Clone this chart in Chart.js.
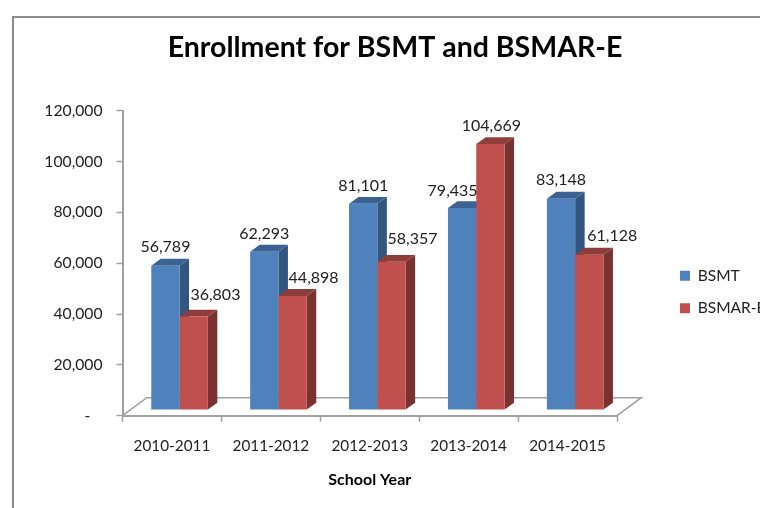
<!DOCTYPE html>
<html>
<head>
<meta charset="utf-8">
<style>
html,body{margin:0;padding:0;background:#fff;overflow:hidden}
#wrap{position:relative;width:760px;height:508px}
#frame{position:absolute;left:12px;top:16px;right:0;bottom:0;border-left:2px solid #8c8c8c;border-top:2px solid #8c8c8c}
canvas{position:absolute;left:0;top:0}
</style>
<script src="https://cdn.jsdelivr.net/npm/chart.js@4"></script>
</head>
<body>
<div id="wrap"><div id="frame"></div><canvas id="c" width="760" height="508"></canvas></div>
<script>
const categories = ['2010-2011','2011-2012','2012-2013','2013-2014','2014-2015'];
const bsmt = [56789,62293,81101,79435,83148];
const bsmarE = [36803,44898,58357,104669,61128];

const FONT = 'Lato';
const AXIS = '#a0a0a0';
const INK = '#222222';
const shift = {x:7.6, y:-5.7};
const barDepth = {x:9.5, y:-6.8};
const floorDepth = {x:24.3, y:-18};
const faces = [
  {top:'#3b6292', side:'#325680'},
  {top:'#8f3d3a', side:'#7a3230'}
];
const labelNudge = [
  {x:[0,0,0,-9.5,0], y:[-18.5,-18,-18,-17.5,-18.5]},
  {x:[21.7,21,21,1,23], y:[-22,-18,-23,-18,-18.3]}
];

const depth3d = {
  id:'depth3d',
  beforeDatasetsDraw(chart){
    const {ctx,scales:{x,y}} = chart;
    const b = y.getPixelForValue(0), l = x.left, r = x.right, fd = floorDepth, d = barDepth;
    ctx.save();
    ctx.strokeStyle = AXIS; ctx.lineWidth = 1.5;
    ctx.beginPath();
    ctx.moveTo(l,b); ctx.lineTo(l+fd.x,b+fd.y); ctx.lineTo(r+fd.x,b+fd.y); ctx.lineTo(r,b);
    ctx.stroke();
    ctx.restore();
    ctx.save();
    ctx.translate(shift.x,shift.y);
    chart.data.datasets.forEach((ds,i)=>{
      const f = faces[i];
      chart.getDatasetMeta(i).data.forEach(bar=>{
        const xl = bar.x-bar.width/2, xr = bar.x+bar.width/2;
        ctx.fillStyle = f.side;
        ctx.beginPath();
        ctx.moveTo(xr,bar.y); ctx.lineTo(xr+d.x,bar.y+d.y); ctx.lineTo(xr+d.x,bar.base+d.y); ctx.lineTo(xr,bar.base);
        ctx.closePath(); ctx.fill();
        ctx.fillStyle = f.top;
        ctx.beginPath();
        ctx.moveTo(xl,bar.y); ctx.lineTo(xl+d.x,bar.y+d.y); ctx.lineTo(xr+d.x,bar.y+d.y); ctx.lineTo(xr,bar.y);
        ctx.closePath(); ctx.fill();
      });
    });
  },
  afterDatasetsDraw(chart){
    const {ctx} = chart;
    ctx.restore();
    ctx.save();
    ctx.font = '16px '+FONT;
    ctx.fillStyle = INK;
    ctx.textAlign = 'center';
    ctx.textBaseline = 'middle';
    chart.data.datasets.forEach((ds,i)=>{
      chart.getDatasetMeta(i).data.forEach((bar,j)=>{
        ctx.fillText(ds.data[j].toLocaleString('en-US'),
          bar.x+shift.x+labelNudge[i].x[j],
          bar.y+shift.y+labelNudge[i].y[j]);
      });
    });
    ctx.restore();
  },
  beforeLayout(chart){
    const lg = chart.legend;
    if(lg && !lg._wrapped){
      const f = lg.fit;
      lg.fit = function(){ f.call(this); this.width = 143; };
      lg._wrapped = true;
    }
  },
  afterLayout(chart){
    const lg = chart.legend, p = lg.options.labels.padding;
    lg.left = 680-p; lg.right = lg.left+143;
    lg.top = 0; lg.bottom = 584;
    const t = chart.titleBlock;
    t.left += 15; t.right += 15;
  }
};

new Chart(document.getElementById('c'),{
  type:'bar',
  data:{
    labels:categories,
    datasets:[
      {label:'BSMT',data:bsmt,backgroundColor:'#4f81bd',clip:false},
      {label:'BSMAR-E',data:bsmarE,backgroundColor:'#c0504d',clip:false}
    ]
  },
  plugins:[depth3d],
  options:{
    responsive:false,
    animation:false,
    layout:{padding:0},
    categoryPercentage:0.572,
    barPercentage:1,
    plugins:{
      tooltip:{enabled:false},
      title:{display:true,text:'Enrollment for BSMT and BSMAR-E',color:'#000',
        font:{family:FONT,size:28.5,weight:'bold'},padding:{top:30.5,bottom:46}},
      legend:{position:'right',
        labels:{boxWidth:10,boxHeight:10,padding:17,color:INK,font:{family:FONT,size:15.5}}}
    },
    scales:{
      x:{
        afterFit(s){s.height=92.3;},
        border:{color:AXIS,width:2},
        grid:{drawOnChartArea:false,drawTicks:true,tickLength:6,tickColor:AXIS,tickWidth:1.5},
        ticks:{color:INK,padding:15,maxRotation:0,font:{family:FONT,size:15.3}},
        title:{display:true,text:'School Year',color:'#000',
          font:{family:FONT,size:16,weight:'bold'},padding:{top:0,bottom:19}}
      },
      y:{
        min:0,max:120000,
        afterFit(s){s.width=122.5;},
        border:{color:AXIS,width:2},
        grid:{drawOnChartArea:false,drawTicks:true,tickLength:6,tickColor:AXIS,tickWidth:1.5},
        ticks:{stepSize:20000,color:INK,padding:14,font:{family:FONT,size:15.7},
          callback:v=>v===0?'-   ':v.toLocaleString('en-US')}
      }
    }
  }
});
</script>
</body>
</html>
